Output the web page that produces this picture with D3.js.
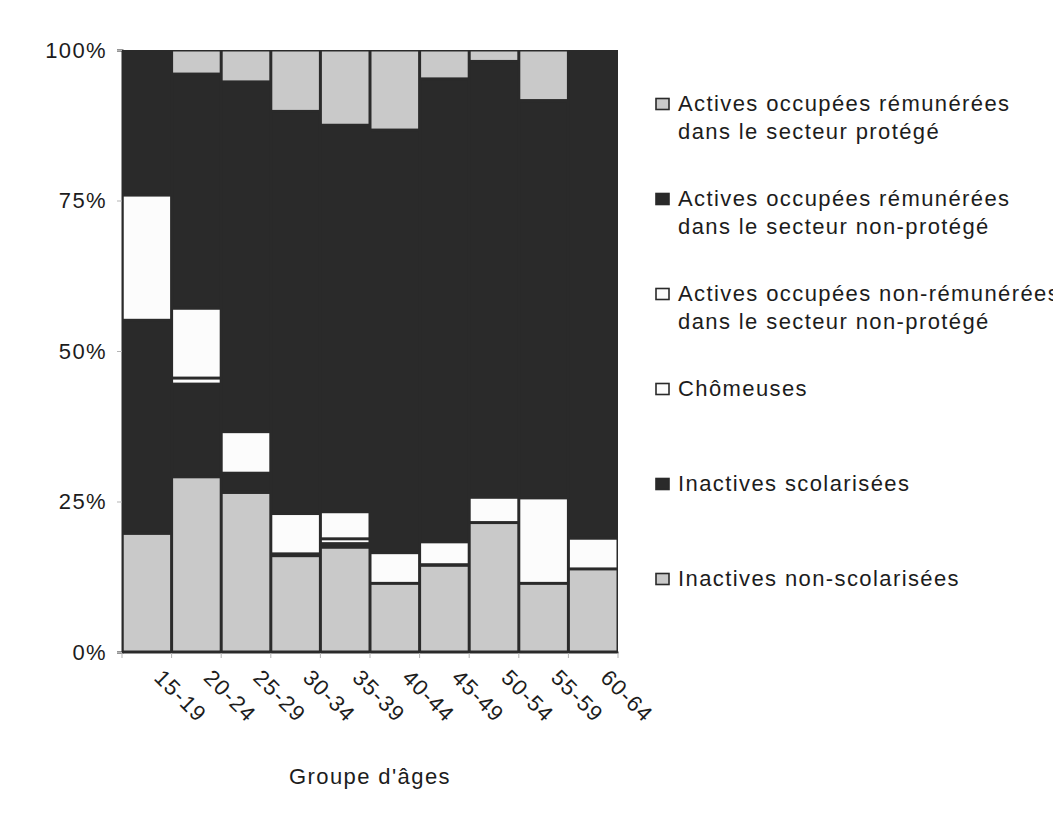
<!DOCTYPE html>
<html>
<head>
<meta charset="utf-8">
<script src="https://cdn.jsdelivr.net/npm/d3@7"></script>
<style>
  html, body { margin: 0; padding: 0; background: #ffffff; }
  svg { display: block; }
  text { font-family: "Liberation Sans", Arial, Helvetica, sans-serif; fill: #1c1c1c; }
</style>
</head>
<body>
<svg id="chart" width="1053" height="814"></svg>
<script>
// ---- Data (percent of women, stacked bottom -> top) ----
const categories = ["15-19", "20-24", "25-29", "30-34", "35-39", "40-44", "45-49", "50-54", "55-59", "60-64"];
const inactNonScol  = [19.7, 29.1, 26.5, 16.0, 17.4, 11.4, 14.4, 21.5, 11.4, 13.8];
const inactScol     = [35.4, 15.4,  3.2,  0.3,  0.6,  0.0,  0.1,  0.0,  0.0,  0.0];
const chomeuses     = [ 0.0,  1.0,  0.0,  0.0,  0.8,  0.0,  0.0,  0.0,  0.0,  0.0];
const nonRemNonProt = [20.8, 11.6,  6.9,  6.7,  4.5,  5.1,  3.8,  4.2, 14.2,  5.1];
const remNonProt    = [24.1, 38.9, 58.1, 66.8, 64.2, 70.2, 76.9, 72.4, 66.0, 81.1];
const remProt       = [ 0.0,  4.0,  5.3, 10.2, 12.5, 13.3,  4.8,  1.9,  8.4,  0.0];
const yTicks = [0, 25, 50, 75, 100];
const yTickLabels = ["0%", "25%", "50%", "75%", "100%"];
const xTitle = "Groupe d'âges";
const legendKeys = ["remProt", "remNonProt", "nonRemNonProt", "chomeuses", "inactScol", "inactNonScol"];
const legendLabels = [
  ["Actives occupées rémunérées", "dans le secteur protégé"],
  ["Actives occupées rémunérées", "dans le secteur non-protégé"],
  ["Actives occupées non-rémunérées", "dans le secteur non-protégé"],
  ["Chômeuses"],
  ["Inactives scolarisées"],
  ["Inactives non-scolarisées"]
];

(function () {
// ---- Build table ----
const keys = ["inactNonScol", "inactScol", "chomeuses", "nonRemNonProt", "remNonProt", "remProt"];
const series = { inactNonScol, inactScol, chomeuses, nonRemNonProt, remNonProt, remProt };
const table = categories.map((c, i) => {
  const row = { cat: c };
  keys.forEach(k => row[k] = series[k][i]);
  return row;
});

const DARK = "#2a2a2a", GRAY = "#c9c9c9", WHITE = "#fcfcfc";
const FS = 22, LS = "1.4px";
const color = d3.scaleOrdinal()
  .domain(keys)
  .range([GRAY, DARK, WHITE, WHITE, DARK, GRAY]);

const svg = d3.select("#chart");
const pLeft = 122, pRight = 618, pTop = 50, pBottom = 652;

const x = d3.scaleBand().domain(categories).range([pLeft, pRight]).padding(0);
const y = d3.scaleLinear().domain([0, 100]).range([pBottom, pTop]);

// dark plot background (dark segments merge, separators between segments)
svg.append("rect")
  .attr("x", pLeft).attr("y", pTop)
  .attr("width", pRight - pLeft).attr("height", pBottom - pTop)
  .attr("fill", DARK);

const stacked = d3.stack().keys(keys)(table);
const inset = 1.5;
svg.append("g").selectAll("g")
  .data(stacked)
  .join("g")
  .attr("fill", d => color(d.key))
  .selectAll("rect")
  .data(d => d.filter(s => (s[1] - s[0]) > 0))
  .join("rect")
  .attr("x", d => x(d.data.cat) + inset)
  .attr("width", x.bandwidth() - 2 * inset)
  .attr("y", d => y(d[1]) + inset)
  .attr("height", d => Math.max(0, y(d[0]) - y(d[1]) - 2 * inset));

// ---- Y axis ----
const yAxis = svg.append("g")
  .attr("transform", `translate(${pLeft},0)`)
  .call(d3.axisLeft(y).tickValues(yTicks).tickSize(5).tickPadding(10)
    .tickFormat((d, i) => yTickLabels[i]));
yAxis.select(".domain").attr("stroke", DARK).attr("stroke-width", 2);
yAxis.selectAll(".tick line").attr("stroke", "#b5b5b5");
yAxis.selectAll(".tick text")
  .attr("font-size", FS)
  .attr("letter-spacing", LS)
  .attr("fill", "#1c1c1c");

// ---- X axis ----
const xAxis = svg.append("g")
  .attr("transform", `translate(0,${pBottom})`)
  .call(d3.axisBottom(x).tickSize(0));
xAxis.select(".domain").attr("stroke", DARK).attr("stroke-width", 2);
xAxis.selectAll(".tick text")
  .attr("y", 0).attr("dy", null)
  .attr("font-size", FS)
  .attr("letter-spacing", LS)
  .attr("text-anchor", "middle")
  .attr("dominant-baseline", "central")
  .attr("fill", "#1c1c1c")
  .attr("transform", `translate(${x.bandwidth() / 2 + 9},44) rotate(45)`);

// boundary tick marks
const bounds = [x(categories[0])].concat(categories.map(c => x(c) + x.bandwidth()));
svg.append("g").selectAll("line")
  .data(bounds)
  .join("line")
  .attr("x1", d => d).attr("x2", d => d)
  .attr("y1", pBottom + 1).attr("y2", pBottom + 6)
  .attr("stroke", "#b5b5b5");

svg.append("text")
  .attr("x", 370).attr("y", 784)
  .attr("text-anchor", "middle")
  .attr("font-size", FS)
  .attr("letter-spacing", LS)
  .text(xTitle);

// ---- Legend ----
const leg = svg.append("g");
legendKeys.forEach((k, i) => {
  const base = 110.5 + i * 95;
  const c = color(k);
  leg.append("rect")
    .attr("x", 656).attr("y", base - 12)
    .attr("width", 13).attr("height", 11)
    .attr("fill", c)
    .attr("stroke", DARK).attr("stroke-width", 1.6);
  legendLabels[i].forEach((line, j) => {
    leg.append("text")
      .attr("x", 678).attr("y", base + j * 28)
      .attr("font-size", FS)
      .attr("letter-spacing", LS)
      .text(line);
  });
});
})();
</script>
</body>
</html>
